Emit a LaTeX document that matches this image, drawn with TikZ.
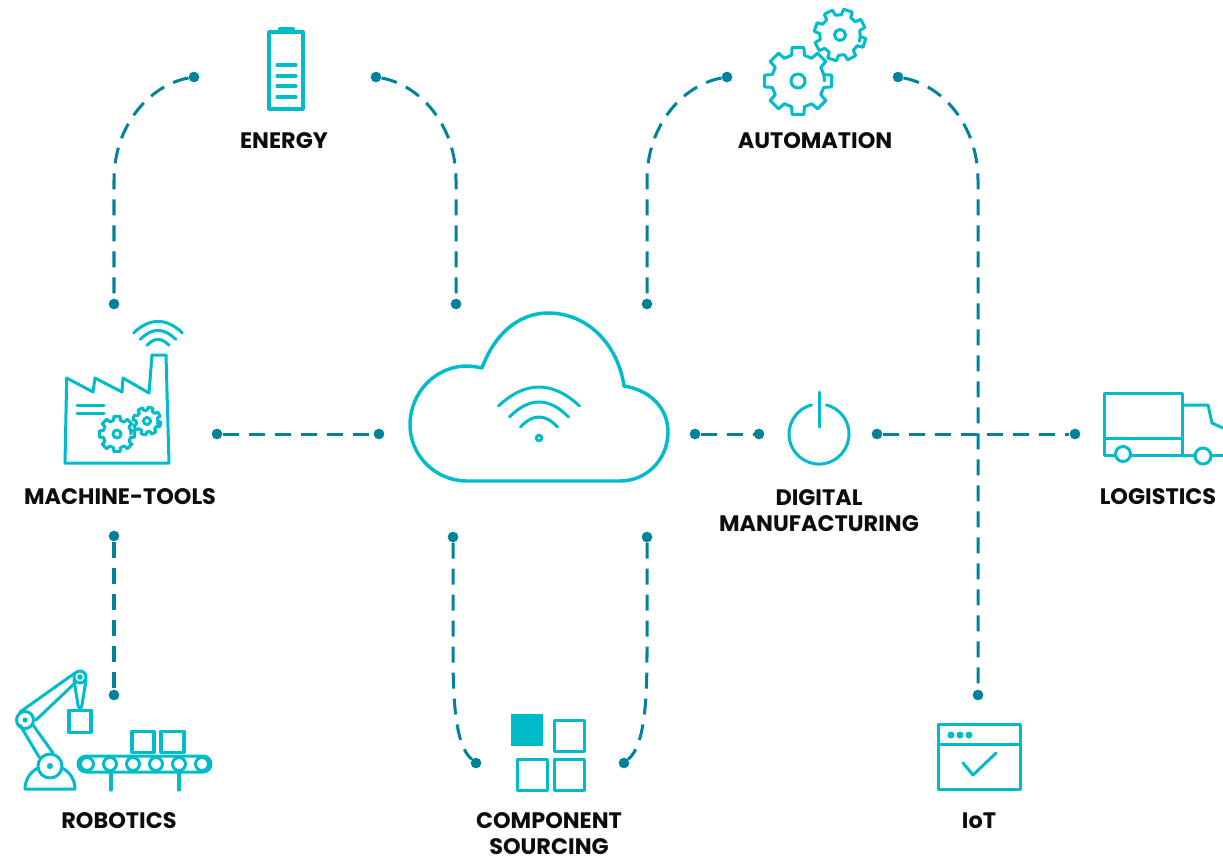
\documentclass[tikz,border=0pt]{standalone}
\usepackage{fontspec}
\setmainfont{Poppins}
\definecolor{iconcyan}{HTML}{00BCCB}
\definecolor{linkteal}{HTML}{00839A}
\tikzset{
		% Icons, link dots and dashed links
		icon/.style={draw=iconcyan,line width=2.26pt,line join=round,line cap=round},
		thin icon/.style={draw=iconcyan,line width=2.26pt,line join=round,line cap=round},
		link dot/.style={circle,fill=linkteal,inner sep=0,minimum size=8pt},
		link/.style={draw=linkteal,line width=2.26pt,dash pattern=on 12pt off 7.5pt},
		caption/.style={font=\bfseries\fontsize{16.8}{19.7}\selectfont,text=black!95,align=center,inner sep=0},
		pics/gear/.style n args={3}{code={
				\draw[thin icon] (#3:#1*.78)
				\foreach \a in {0,45,...,315} {
					-- (\a+#3-14:#1*.78) -- (\a+#3-10:#1) -- (\a+#3+10:#1) -- (\a+#3+14:#1*.78)
					-- (\a+#3+31:#1*.78)
				} -- cycle;
				\draw[thin icon] (0,0) circle (#2);
			}},
		pics/wifi/.style={code={
				\draw[thin icon] (-40.5,-32) .. controls (-13.5,-57.3) and (13.5,-57.3) .. (40.5,-32);
				\draw[thin icon] (-29.5,-21) .. controls (-9.8,-41) and (9.8,-41) .. (29.5,-21);
				\draw[thin icon] (-18.5,-11) .. controls (-6.2,-24.3) and (6.2,-24.3) .. (18.5,-11);
			}}
	}
\begin{document}
\begin{tikzpicture}[x=.75pt,y=-.75pt]
		\useasboundingbox (0,0) rectangle (1223,857);
		% link dots
		\node [link dot] (energyL) at (194,77) {};
		\node [link dot] (energyR) at (376,77) {};
		\node [link dot] (toolsT) at (114,304) {};
		\node [link dot] (cloudTL) at (456,304) {};
		\node [link dot] (cloudTR) at (647,304) {};
		\node [link dot] (autoL) at (727,77) {};
		\node [link dot] (autoR) at (898,77) {};
		\node [link dot] (iotT) at (978,695) {};
		\node [link dot] (toolsR) at (217,434) {};
		\node [link dot] (cloudL) at (379,434) {};
		\node [link dot] (cloudR) at (695,434) {};
		\node [link dot] (powerL) at (759,434) {};
		\node [link dot] (powerR) at (877,434) {};
		\node [link dot] (truckL) at (1075,434) {};
		\node [link dot] (toolsB) at (114,536) {};
		\node [link dot] (robotT) at (114,695) {};
		\node [link dot] (cloudBL) at (453,537) {};
		\node [link dot] (cloudBR) at (647,537) {};
		\node [link dot] (partsL) at (476,763) {};
		\node [link dot] (partsR) at (624,763) {};
		% links
		\draw [link] (energyL) .. controls (150,85) and (114,125) .. (114,180) -- (toolsT);
		\draw [link] (energyR) .. controls (420,85) and (456,125) .. (456,180) -- (cloudTL);
		\draw [link] (autoL) .. controls (683,85) and (647,125) .. (647,180) -- (cloudTR);
		\draw [link] (autoR) .. controls (942,85) and (978,125) .. (978,180) -- (iotT);
		\draw [link] (toolsR) -- (cloudL);
		\draw [link] (cloudR) -- (powerL);
		\draw [link] (powerR) -- (truckL);
		\draw [link] (toolsB) -- (robotT);
		\draw [link] (cloudBL) -- (453,650) .. controls (453,700) and (455,745) .. (partsL);
		\draw [link] (cloudBR) -- (647,650) .. controls (647,700) and (645,745) .. (partsR);
		% cloud
		\draw [icon,line width=2.6pt] (467,481) .. controls (435,481) and (410,455) .. (410,425)
			.. controls (410,392) and (436,366) .. (467,366)
			.. controls (472,366) and (477,367) .. (482,368)
			.. controls (494,335) and (518,313) .. (548,313)
			.. controls (588,313) and (618,345) .. (624,386)
			.. controls (650,390) and (668,408) .. (668,432)
			.. controls (668,459) and (647,481) .. (620,481) -- cycle;
		\pic at (539,438) {wifi};
		\draw [thin icon] (539,438) circle (2.8);
		% battery
		\draw [icon] (269,32) rectangle (303,109);
		\fill [iconcyan,rounded corners=1pt] (278,27) rectangle (295,33);
		\foreach \y in {65,76,86,97} \draw [thin icon] (277,\y) -- (296,\y);
		% gears
		\pic at (798,81) {gear={34}{7}{0}};
		\pic at (840,35) {gear={26}{5.5}{18}};
		% factory
		\draw [icon] (65,463) -- (66.7,378) -- (93,392) -- (95,378) -- (122,392) -- (123,378)
			-- (149,393) -- (152,355) -- (166,355) -- (169,463) -- cycle;
		\draw [thin icon] (77,405) -- (104,405) (77,413) -- (104,413);
		\pic at (117,434) {gear={18}{4}{0}};
		\pic at (147,421) {gear={14}{3.5}{15}};
		\pic [scale=.6] at (158,352) {wifi};
		% power button
		\draw [thin icon] (811.5,405) arc (-104.5:-435.5:30);
		\draw [thin icon] (819,392) -- (819,427);
		% truck
		\draw [icon] (1104,393) rectangle (1182,455);
		\draw [icon] (1104,438) -- (1182,438);
		\draw [thin icon] (1182,405) -- (1208,405) -- (1212,423) -- (1223,428);
		\draw [thin icon] (1182,455) -- (1223,455);
		\draw [icon,fill=white] (1123,454) circle (7.5);
		\draw [icon,fill=white] (1203,456) circle (8);
		% browser window
		\draw [icon] (938,724) rectangle (1020,789);
		\draw [icon] (938,744) -- (1020,744);
		\foreach \x in {951,960,969} \fill [iconcyan] (\x,735) circle (3.5);
		\draw [icon] (963,763) -- (973,775) -- (996,753);
		% robot arm
		\draw [thin icon] (25,789) .. controls (25,780) and (30,772) .. (38,768);
		\draw [thin icon] (62,768) .. controls (70,772) and (75,780) .. (75,789) -- (25,789);
		\draw [thin icon] (50,766) circle (12);
		\fill [iconcyan] (50,766) circle (3);
		\draw [thin icon] (20,725) -- (39,757) (33,725) -- (53,753);
		\draw [thin icon] (20,712) -- (75,673) (36,720) -- (75,683);
		\draw [thin icon] (25,720) circle (8.5);
		\fill [iconcyan] (25,720) circle (2.5);
		\draw [thin icon] (80,677) circle (6);
		\draw [thin icon] (80,677) circle (1.5);
		\draw [thin icon] (74,680) -- (78,705) (86,680) -- (82,705) (78,705) -- (80,710) -- (82,705);
		\draw [thin icon] (69,710) rectangle (91,732);
		% conveyor
		\draw [thin icon] (132,731) rectangle (154,752);
		\draw [thin icon] (161,731) rectangle (184,752);
		\draw [thin icon,rounded corners=6pt] (78,756) rectangle (211,772);
		\foreach \x in {87,110,133,156,179,202} \draw [thin icon,fill=white] (\x,764) circle (6.5);
		\draw [thin icon] (111,772) -- (111,790) (179,772) -- (179,790);
		% component squares
		\fill [iconcyan] (511,714) rectangle (543,746);
		\draw [thin icon] (554,720) rectangle (584,751);
		\draw [thin icon] (517,759) rectangle (547,790);
		\draw [thin icon] (554,759) rectangle (584,790);
		% captions
		\node [caption] (energy) at (284,141) {ENERGY};
		\node [caption] (automation) at (815,141) {AUTOMATION};
		\node [caption] (tools) at (120,497) {MACHINE-TOOLS};
		\node [caption,anchor=north] (digital) at (819,489) {DIGITAL\\MANUFACTURING};
		\node [caption] (logistics) at (1158,497) {LOGISTICS};
		\node [caption] (robotics) at (119,821) {ROBOTICS};
		\node [caption,anchor=north] (sourcing) at (549,812) {COMPONENT\\SOURCING};
		\node [caption] (iot) at (979,821) {IoT};
	\end{tikzpicture}
\end{document}
